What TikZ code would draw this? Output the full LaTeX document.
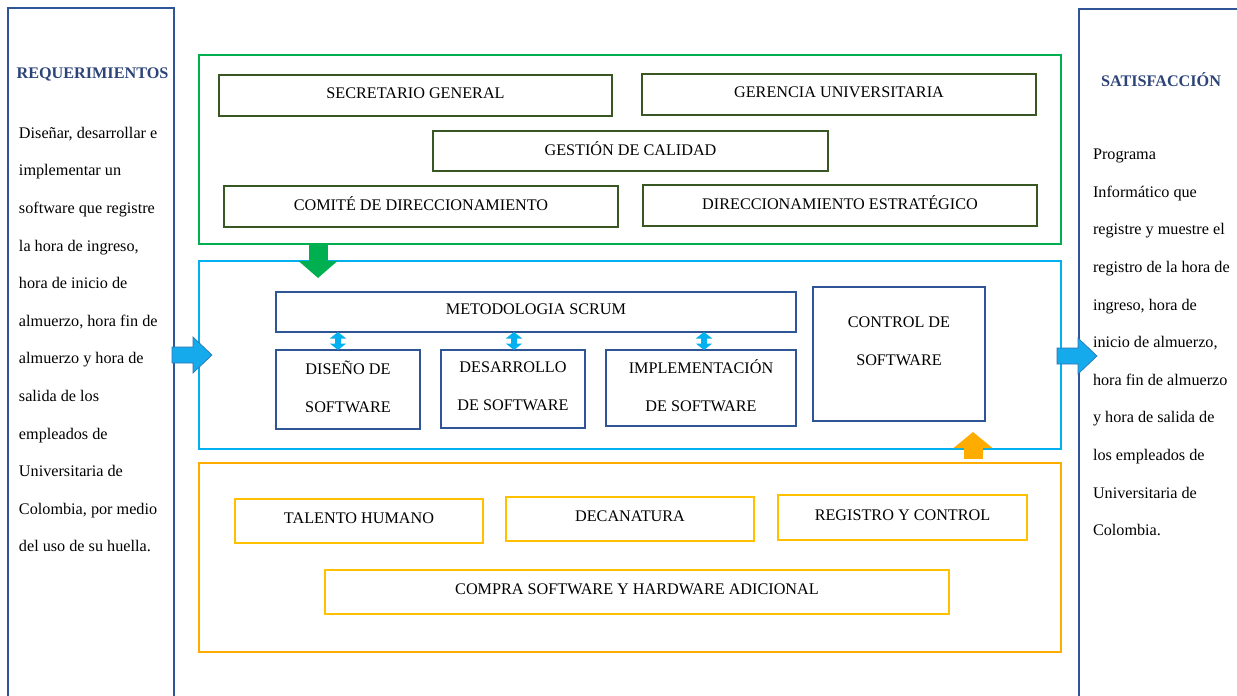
\documentclass[tikz,border=0pt]{standalone}
\usepackage{fontspec}
\setmainfont{Liberation Serif}
\usetikzlibrary{arrows.meta,calc}
\definecolor{panelblue}{RGB}{47,85,151}
\definecolor{titleblue}{RGB}{45,68,120}
\definecolor{grn}{RGB}{0,176,80}
\definecolor{dkgrn}{RGB}{56,87,35}
\definecolor{cyanb}{RGB}{0,176,240}
\definecolor{orng}{RGB}{255,172,0}
\definecolor{yel}{RGB}{255,192,0}
\definecolor{arrowfill}{RGB}{20,170,235}
\definecolor{arrowedge}{RGB}{46,117,182}

\begin{document}
\begin{tikzpicture}[x=1pt,y=-1pt,
  every node/.style={inner sep=0pt, outer sep=0pt, font=\fontsize{16.2}{38}\selectfont},
  frame/.style={draw, line width=2.2pt, minimum width=862pt},
  boxbase/.style={line width=2.4pt, align=center, text depth=5pt},
  gbox/.style={boxbase, draw=dkgrn},
  bbox/.style={boxbase, draw=panelblue},
  ybox/.style={boxbase, draw=yel},
  panel/.style={draw=panelblue, line width=2.4pt},
  paneltitle/.style={font=\fontsize{16.2}{18}\selectfont\bfseries, text=titleblue},
  paneltext/.style={align=left, font=\fontsize{16.2}{37.6}\selectfont, anchor=north west},
  dbl/.style={draw=cyanb, line width=6pt, {Triangle[width=16pt,length=6.5pt]}-{Triangle[width=16pt,length=6.5pt]}},
  bigarrow/.style={line width=19pt, -{Triangle[width=38pt,length=17pt]}},
  sidearrow/.pic={\filldraw[fill=arrowfill, draw=arrowedge, line width=0.7pt]
    (-40,-8) -- (-19,-8) -- (-19,-18) -- (0,0) -- (-19,18) -- (-19,8) -- (-40,8) -- cycle;},
]
\clip (0,0) rectangle (1237,696);
\fill[white] (0,0) rectangle (1237,696);

% side panels
\node[panel, minimum width=166pt, minimum height=720pt, anchor=north west] (lpanel) at (8,8) {};
\node[panel, minimum width=180pt, minimum height=720pt, anchor=north west] (rpanel) at (1079,9) {};

\node[paneltitle] (ltitle) at (92.5,74) {REQUERIMIENTOS};
\node[paneltext] (ltext) at (19,127) {Diseñar, desarrollar e\\implementar un\\software que registre\\la hora de ingreso,\\hora de inicio de\\almuerzo, hora fin de\\almuerzo y hora de\\salida de los\\empleados de\\Universitaria de\\Colombia, por medio\\del uso de su huella.};

\node[paneltitle] (rtitle) at (1161,80) {SATISFACCIÓN};
\node[paneltext] (rtext) at (1093,149) {Programa\\Informático que\\registre y muestre el\\registro de la hora de\\ingreso, hora de\\inicio de almuerzo,\\hora fin de almuerzo\\y hora de salida de\\los empleados de\\Universitaria de\\Colombia.};

% three stage frames
\node[frame, draw=grn, minimum height=189pt] (gout) at (630,149.5) {};
\node[frame, draw=cyanb, minimum height=188pt] (cout) at (630,355) {};
\node[frame, draw=orng, minimum height=189pt] (oout) at (630,557.5) {};

% direction (green)
\node[gbox, minimum width=393pt, minimum height=41pt] (sec) at (415.5,95.5) {SECRETARIO GENERAL};
\node[gbox, minimum width=394pt, minimum height=41pt] (ger) at (839,94.5) {GERENCIA UNIVERSITARIA};
\node[gbox, minimum width=395pt, minimum height=40pt] (gest) at (630.5,151) {GESTIÓN DE CALIDAD};
\node[gbox, minimum width=394pt, minimum height=41pt] (com) at (421,206.5) {COMITÉ DE DIRECCIONAMIENTO};
\node[gbox, minimum width=394pt, minimum height=41pt] (dir) at (840,205.5) {DIRECCIONAMIENTO ESTRATÉGICO};

% process (blue)
\node[bbox, minimum width=520pt, minimum height=40pt] (scrum) at (536,312) {METODOLOGIA SCRUM};
\node[bbox, minimum width=144pt, minimum height=79pt] (dis) at (348,389.5) {DISEÑO DE\\SOFTWARE};
\node[bbox, minimum width=144pt, minimum height=78pt] (des) at (513,389) {DESARROLLO\\DE SOFTWARE};
\node[bbox, minimum width=190pt, minimum height=76pt] (imp) at (701,388) {IMPLEMENTACIÓN\\DE SOFTWARE};
\node[bbox, minimum width=172pt, minimum height=134pt] (ctrl) at (899,354) {};
\node[align=center] (ctrltext) at (899,341) {CONTROL DE\\SOFTWARE};

% resources (yellow)
\node[ybox, minimum width=248pt, minimum height=44pt] (tal) at (359,521) {TALENTO HUMANO};
\node[ybox, minimum width=248pt, minimum height=44pt] (dec) at (630,519) {DECANATURA};
\node[ybox, minimum width=249pt, minimum height=45pt] (reg) at (902.5,517.5) {REGISTRO Y CONTROL};
\node[ybox, minimum width=624pt, minimum height=44pt] (comp) at (637,592) {COMPRA SOFTWARE Y HARDWARE ADICIONAL};

% scrum links
\coordinate (d1) at ($(dis.north)+(-10,0)$);
\coordinate (d2) at ($(des.north)+(1,0)$);
\coordinate (d3) at ($(imp.north)+(3,0)$);
\draw[dbl] (d1 |- scrum.south) -- (d1);
\draw[dbl] (d2 |- scrum.south) -- (d2);
\draw[dbl] (d3 |- scrum.south) -- (d3);

% stage arrows
\coordinate (gtip) at (318,278);
\draw[bigarrow, draw=grn, fill=grn] (gtip |- gout.south) -- (gtip);
\coordinate (otip) at (973,432);
\draw[bigarrow, draw=orng, fill=orng, -{Triangle[width=38pt,length=16pt]}] ([yshift=4pt]otip |- oout.north) -- (otip);

\coordinate (lin) at (212,355);
\coordinate (rin) at (1097,356);
\pic at (lin) {sidearrow};
\pic at (rin) {sidearrow};
\end{tikzpicture}
\end{document}
